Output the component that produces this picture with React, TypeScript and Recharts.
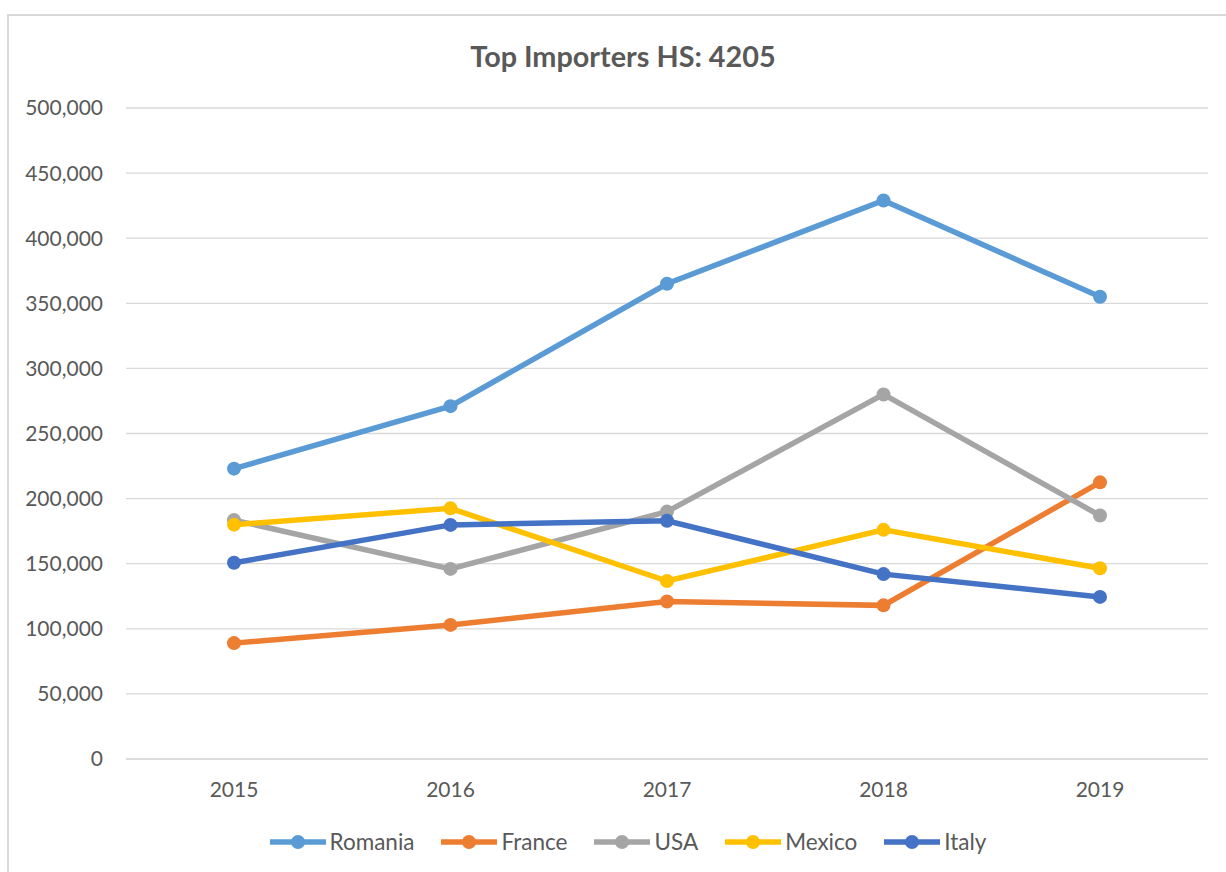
import React from 'react';
import { LineChart, Line, XAxis, YAxis, CartesianGrid } from 'recharts';

const years = ['2015', '2016', '2017', '2018', '2019'];
const romania = [223000, 271000, 365000, 429000, 355000];
const france = [89000, 103000, 121000, 118000, 212500];
const usa = [183500, 146000, 190000, 280000, 187000];
const mexico = [180000, 192500, 136700, 176000, 146500];
const italy = [150700, 179800, 183000, 142000, 124500];
const yTicks = [0, 50000, 100000, 150000, 200000, 250000, 300000, 350000, 400000, 450000, 500000];

const seriesList = [
  { key: 'Romania', values: romania, color: '#5B9BD5' },
  { key: 'France', values: france, color: '#ED7D31' },
  { key: 'USA', values: usa, color: '#A5A5A5' },
  { key: 'Mexico', values: mexico, color: '#FFC000' },
  { key: 'Italy', values: italy, color: '#4472C4' },
];

const data = years.map((y, i) => {
  const row: Record<string, string | number> = { year: y };
  seriesList.forEach((s) => {
    row[s.key] = s.values[i];
  });
  return row;
});

const FONT = 'Lato, "Open Sans", sans-serif';
const TEXT = '#595959';

const fmt = (v: number) => v.toLocaleString('en-US');

const LegendBlock = () => (
  <div
    style={{
      position: 'absolute',
      left: 0,
      top: 829,
      width: 1256,
      display: 'flex',
      justifyContent: 'center',
      alignItems: 'center',
      fontFamily: FONT,
      fontSize: 22.5,
      color: TEXT,
      lineHeight: '26px',
    }}
  >
    {seriesList.map((s, i) => (
      <div
        key={s.key}
        style={{ display: 'flex', alignItems: 'center', marginRight: i === seriesList.length - 1 ? 0 : 27 }}
      >
        <svg width={56} height={16} style={{ marginRight: 4 }}>
          <line x1={0} y1={8} x2={56} y2={8} stroke={s.color} strokeWidth={5.5} />
          <circle cx={28} cy={8} r={7} fill={s.color} />
        </svg>
        <span>{s.key}</span>
      </div>
    ))}
  </div>
);

export default function App() {
  return (
    <div style={{ position: 'relative', width: 1226, height: 872, overflow: 'hidden', background: '#fff' }}>
      <style>{`body{margin:0;overflow:hidden;}`}</style>
      <div
        style={{
          position: 'absolute',
          left: 7,
          top: 14,
          width: 1400,
          height: 1000,
          border: '2px solid #d9d9d9',
          boxSizing: 'border-box',
        }}
      />
      <div
        style={{
          position: 'absolute',
          left: 0,
          top: 38,
          width: 1246,
          textAlign: 'center',
          fontFamily: FONT,
          fontWeight: 700,
          fontSize: 28.8,
          lineHeight: '36px',
          color: TEXT,
        }}
      >
        Top Importers HS: 4205
      </div>
      <div style={{ position: 'absolute', left: 0, top: 0 }}>
        <LineChart
          width={1226}
          height={872}
          data={data}
          margin={{ top: 108, right: 18, bottom: 0, left: 0 }}
        >
          <CartesianGrid horizontal vertical={false} stroke="#d9d9d9" strokeWidth={1.3} />
          <XAxis
            dataKey="year"
            height={113}
            padding={{ left: 108, right: 108 }}
            axisLine={{ stroke: '#d9d9d9', strokeWidth: 1.3 }}
            tickLine={false}
            tickSize={0}
            tickMargin={23}
            tick={{ fill: TEXT, fontSize: 21, fontFamily: FONT }}
          />
          <YAxis
            width={126}
            domain={[0, 500000]}
            ticks={yTicks}
            tickFormatter={fmt}
            axisLine={false}
            tickLine={false}
            tickSize={0}
            tickMargin={23}
            tick={{ fill: TEXT, fontSize: 21, fontFamily: FONT }}
          />
          {seriesList.map((s) => (
            <Line
              key={s.key}
              dataKey={s.key}
              stroke={s.color}
              strokeWidth={5.5}
              dot={{ r: 7, fill: s.color, stroke: s.color, strokeWidth: 0 }}
              isAnimationActive={false}
            />
          ))}
        </LineChart>
      </div>
      <LegendBlock />
    </div>
  );
}
